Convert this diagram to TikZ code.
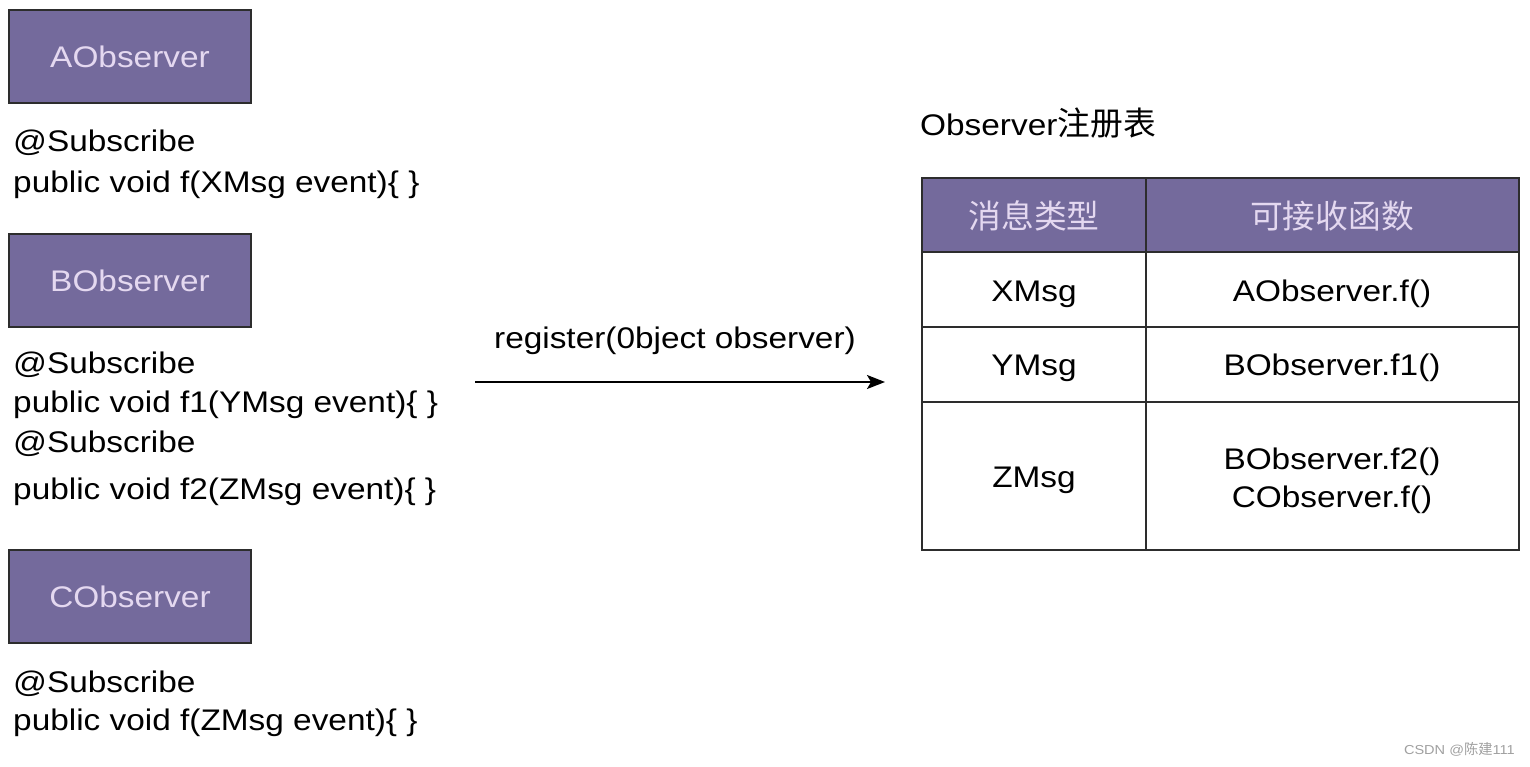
\documentclass[tikz,border=0pt]{standalone}
\usepackage{fontspec}
\setmainfont[FakeStretch=1.12]{Liberation Sans}
\newfontfamily\cjk[Scale=1.1]{Noto Sans CJK SC}
\usetikzlibrary{arrows.meta}
\definecolor{boxfill}{RGB}{116,106,156}
\definecolor{boxtext}{RGB}{228,216,240}
\definecolor{edge}{RGB}{45,45,45}
\definecolor{wm}{RGB}{160,160,160}
\tikzset{
  obox/.style={draw=edge, line width=1.5pt, fill=boxfill, text=boxtext,
    minimum width=242pt, minimum height=93pt, inner sep=0pt,
    font=\fontsize{29.8}{34}\selectfont},
  code/.style={anchor=base west, inner sep=0pt, font=\fontsize{29.8}{34}\selectfont},
  cell/.style={anchor=base, inner sep=0pt, font=\fontsize{29.8}{34}\selectfont},
  hdr/.style={anchor=center, inner sep=0pt, text=boxtext, font=\fontsize{29.8}{34}\selectfont\cjk},
  tbl/.style={draw=edge, line width=2pt},
}
\begin{document}
\begin{tikzpicture}[x=1pt,y=-1pt]
\useasboundingbox (0,0) rectangle (1530,766);
% observers
\node[obox] (A) at (130,56.5) {\raisebox{-2pt}{AObserver}};
\node[obox] (B) at (130,280.5) {\raisebox{-2pt}{BObserver}};
\node[obox] (C) at (130,596.5) {\raisebox{-2pt}{CObserver}};
% code lines
\node[code] (a1) at (13,151) {@Subscribe};
\node[code] (a2) at (13,192) {public void f(XMsg event)\{ \}};
\node[code] (b1) at (13,373) {@Subscribe};
\node[code] (b2) at (13,412) {public void f1(YMsg event)\{ \}};
\node[code] (b3) at (13,452) {@Subscribe};
\node[code] (b4) at (13,499) {public void f2(ZMsg event)\{ \}};
\node[code] (c1) at (13,692) {@Subscribe};
\node[code] (c2) at (13,730) {public void f(ZMsg event)\{ \}};
% arrow
\coordinate (s) at (475,382);
\coordinate (e) at (885,382);
\draw[line width=1.8pt, -{Stealth[length=18pt,width=14pt,inset=4pt]}] (s) -- (e);
\node[cell] (reg) at (675,348) {register(0bject observer)};
% title
\node[code] (title) at (920,135) {Observer{\cjk 注册表}};
% table
\fill[boxfill] (922,178) rectangle (1519,252);
\draw[tbl] (922,252) -- (1519,252);
\draw[tbl] (922,327) -- (1519,327);
\draw[tbl] (922,402) -- (1519,402);
\draw[tbl] (1146,178) -- (1146,550);
\draw[tbl] (922,178) rectangle (1519,550);
\node[hdr] (h1) at (1034,216) {消息类型};
\node[hdr] (h2) at (1332,216) {可接收函数};
\node[cell] (r1a) at (1034,301) {XMsg};
\node[cell] (r1b) at (1332,301) {AObserver.f()};
\node[cell] (r2a) at (1034,375) {YMsg};
\node[cell] (r2b) at (1332,375) {BObserver.f1()};
\node[cell] (r3a) at (1034,487) {ZMsg};
\node[cell] (r3b) at (1332,469) {BObserver.f2()};
\node[cell] (r3c) at (1332,507) {CObserver.f()};
% watermark
\node[anchor=base east, inner sep=0pt, text=wm, font=\fontsize{13}{13}\selectfont] (wmk) at (1515,754) {CSDN @{\cjk 陈建}111};
\end{tikzpicture}
\end{document}
